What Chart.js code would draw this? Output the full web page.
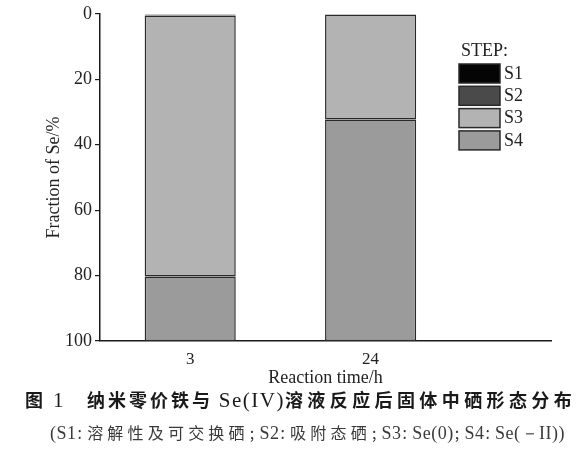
<!DOCTYPE html>
<html>
<head>
<meta charset="utf-8">
<script src="https://cdn.jsdelivr.net/npm/chart.js@4"></script>
<style>
  html, body { margin: 0; padding: 0; background: #ffffff; }
  #wrap { position: relative; width: 587px; height: 390px; }
  .cap1 {
    position: absolute; left: 25px; top: 388px; white-space: nowrap;
    font-family: "Noto Sans CJK SC", sans-serif; font-weight: 700; font-size: 18px;
    line-height: 22px; color: #1a1a1a; letter-spacing: 3px;
  }
  .cap1 .wide { letter-spacing: 4.4px; }
  .cap2 {
    position: absolute; left: 50px; top: 421px; white-space: nowrap;
    font-family: "Noto Sans CJK SC", sans-serif; font-weight: 400; font-size: 16px;
    line-height: 22px; color: #3a3a3a; letter-spacing: 4.2px;
  }
  .serif { font-family: "Liberation Serif", serif; font-weight: 400; font-size: 21px; letter-spacing: 1.5px; }
  .cap2 .serif { font-size: 18px; letter-spacing: 0.5px; }
  .cap2 .p { margin: 0 1px; }
  .gap { display: inline-block; width: 22px; }
</style>
</head>
<body>
<div id="wrap"><canvas id="chart"></canvas></div>
<div class="cap1">图 <span class="serif">1</span><span class="gap"></span>纳米零价铁与<span class="serif">&thinsp;Se(IV)</span><span class="wide">溶液反应后固体中硒形态分布</span></div>
<div class="cap2"><span class="serif">(</span><span class="serif">S1</span><span class="p">:</span>溶解性及可交换硒<span class="p">;</span><span class="serif">S2</span><span class="p">:</span>吸附态硒<span class="p">;</span><span class="serif">S3</span><span class="p">:</span><span class="serif">Se(0)</span><span class="p">;</span><span class="serif">S4</span><span class="p">:</span><span class="serif">Se(－II))</span></div>
<script>
// reaction time categories (h)
const timeLabels = ['3', '24'];
// fraction of Se (%) per step, stacked from 0 downwards
const stepNames = ['S1', 'S2', 'S3', 'S4'];
const s1 = [0.5, 0];
const s2 = [0, 0];
const s3 = [79.8, 32.3];
const s4 = [19.7, 67.7];
const yTicks = [0, 20, 40, 60, 80, 100];

const stepColors = ['#050505', '#4a4a4a', '#b3b3b3', '#9b9b9b'];
const serif = 'Liberation Serif, serif';
const ink = '#222222';

function toPoints(arr) {
  return arr.map((v, i) => ({ x: i, y: v }));
}

const datasets = [s1, s2, s3, s4].map((arr, k) => ({
  label: stepNames[k],
  data: toPoints(arr),
  backgroundColor: stepColors[k],
  borderColor: '#2a2a2a',
  borderWidth: 1.5,
  borderSkipped: false,
  barPercentage: 0.505,
  categoryPercentage: 1.0,
}));

// legend drawn inside the plot, top right
const stepLegend = {
  id: 'stepLegend',
  afterDraw(chart) {
    const ctx = chart.ctx;
    ctx.save();
    ctx.font = '18px ' + serif;
    ctx.fillStyle = ink;
    ctx.textBaseline = 'middle';
    ctx.textAlign = 'left';
    ctx.fillText('STEP:', 461, 51);
    chart.data.datasets.forEach((ds, i) => {
      const top = 64 + i * 22.3;
      ctx.fillStyle = ds.backgroundColor;
      ctx.fillRect(459, top, 41, 19);
      ctx.strokeStyle = '#2a2a2a';
      ctx.lineWidth = 1.5;
      ctx.strokeRect(459, top, 41, 19);
      ctx.fillStyle = ink;
      ctx.fillText(ds.label, 504, top + 10);
    });
    ctx.restore();
  }
};

const ctx = document.getElementById('chart').getContext('2d');
new Chart(ctx, {
  type: 'bar',
  data: { datasets: datasets },
  plugins: [stepLegend],
  options: {
    responsive: true,
    maintainAspectRatio: false,
    animation: false,
    layout: { padding: { left: 41, right: 36, top: 12, bottom: 0 } },
    plugins: {
      legend: { display: false },
      tooltip: { enabled: false },
    },
    scales: {
      x: {
        type: 'linear',
        stacked: true,
        offset: false,
        min: -0.5,
        max: 2.0,
        afterBuildTicks: (scale) => {
          scale.ticks = timeLabels.map((t, i) => ({ value: i }));
        },
        afterFit: (scale) => { scale.height = 49; },
        ticks: {
          color: ink,
          font: { family: serif, size: 17 },
          padding: 0,
          callback: (value) => timeLabels[value],
        },
        grid: { display: false },
        border: { display: true, color: '#1a1a1a', width: 1.5 },
        title: {
          display: true,
          text: 'Reaction time/h',
          color: ink,
          font: { family: serif, size: 18 },
          padding: { top: 0, bottom: 1 },
        },
      },
      y: {
        stacked: true,
        reverse: true,
        min: 0,
        max: 100,
        afterBuildTicks: (scale) => {
          scale.ticks = yTicks.map((v) => ({ value: v }));
        },
        afterFit: (scale) => { scale.width = 59; },
        ticks: {
          color: ink,
          font: { family: serif, size: 18 },
          padding: 3,
        },
        grid: {
          display: true,
          drawOnChartArea: false,
          drawTicks: true,
          tickLength: 5,
          color: '#1a1a1a',
          lineWidth: 1.2,
        },
        border: { display: true, color: '#1a1a1a', width: 1.5 },
        title: {
          display: true,
          text: 'Fraction of Se/%',
          color: ink,
          font: { family: serif, size: 18 },
          padding: { top: 2, bottom: 2 },
        },
      },
    },
  },
});
</script>
</body>
</html>
